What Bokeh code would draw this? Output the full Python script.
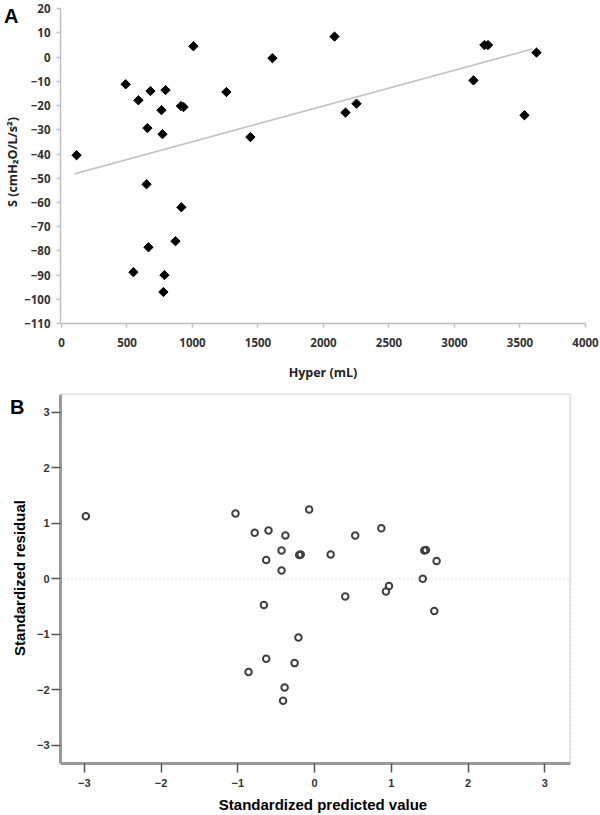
from bokeh.plotting import figure
from bokeh.layouts import column
from bokeh.models import (FixedTicker, Range1d, LinearAxis, CustomJSTickFormatter,
                          BoxAnnotation)
from bokeh.embed import file_html
from bokeh.resources import INLINE

# ---------------- Panel A data ----------------
hyper_ml = [115, 490, 587, 679, 794, 763, 656, 771, 912, 932, 1007, 1259, 1442, 1610,
            649, 915, 870, 664, 549, 786, 778, 2084, 2168, 2252, 3145, 3228, 3256,
            3626, 3534]
s_value = [-40.5, -11.2, -17.8, -14.0, -13.6, -21.9, -29.3, -31.8, -20.2, -20.6, 4.5,
           -14.4, -33.0, -0.4, -52.5, -62.0, -76.0, -78.5, -88.8, -90.0, -97.0, 8.5,
           -22.9, -19.2, -9.6, 5.0, 5.0, 1.9, -24.0]
trend_x = [99, 3598]
trend_y = [-48.2, 3.4]
a_x_ticks = [0, 500, 1000, 1500, 2000, 2500, 3000, 3500, 4000]
a_y_ticks = [-110, -100, -90, -80, -70, -60, -50, -40, -30, -20, -10, 0, 10, 20]

# ---------------- Panel B data ----------------
std_pred = [-2.98, -1.03, -0.78, -0.60, -0.38, -0.43, -0.63, -0.43, -0.20, -0.18,
            -0.66, -0.21, -0.63, -0.86, -0.26, -0.39, -0.41, -0.07, 0.21, 0.53,
            0.87, 1.43, 1.45, 1.59, 1.41, 0.97, 0.93, 0.40, 1.56]
std_resid = [1.13, 1.18, 0.83, 0.87, 0.78, 0.51, 0.34, 0.15, 0.43, 0.44,
             -0.47, -1.06, -1.44, -1.68, -1.52, -1.96, -2.20, 1.25, 0.44, 0.78,
             0.91, 0.51, 0.52, 0.32, 0.00, -0.13, -0.23, -0.32, -0.58]
b_ticks = [-3, -2, -1, 0, 1, 2, 3]
b_box_edge = 3.33   # where the SPSS chart box closes (top and right)
b_reference = 0     # residual reference line

# panel letters (row where each letter sits, in each panel's y units)
panel_letters = ["A", "B"]
letter_rows = [17.2, 3.10]


def letter_axis(letter, row):
    ax = LinearAxis(ticker=FixedTicker(ticks=[row]),
                    formatter=CustomJSTickFormatter(code="return '%s';" % letter))
    ax.axis_line_color = None
    ax.major_tick_line_color = None
    ax.minor_tick_line_color = None
    ax.major_tick_out = 0
    ax.major_tick_in = 0
    ax.minor_tick_out = 0
    ax.minor_tick_in = 0
    ax.major_label_standoff = -17
    ax.major_label_text_font = "Liberation Sans"
    ax.major_label_text_font_style = "bold"
    ax.major_label_text_font_size = "20px"
    ax.major_label_text_color = "black"
    return ax


# ---------------- Panel A ----------------
pA = figure(width=600, height=385,
            x_range=Range1d(-7.6, 4000), y_range=Range1d(-110, 23.4),
            output_backend="svg", toolbar_location=None,
            min_border_left=60, min_border_right=15, min_border_top=0, min_border_bottom=62)
pA.outline_line_color = None
pA.xgrid.grid_line_color = None
pA.ygrid.grid_line_color = None
pA.background_fill_color = "white"
pA.border_fill_color = "white"

pA.line(trend_x, trend_y, line_color="#c4c4c4", line_width=1.6)
pA.scatter(hyper_ml, s_value, marker="square", angle=0.785398, size=6.6,
           fill_color="black", line_color="black")

for ax in (pA.xaxis[0], pA.yaxis[0]):
    ax.axis_line_color = "#bfbfbf"
    ax.axis_line_width = 1.5
    ax.major_tick_line_color = "#bfbfbf"
    ax.major_tick_line_width = 1.5
    ax.major_tick_out = 4
    ax.major_tick_in = 0
    ax.minor_tick_out = 0
    ax.minor_tick_in = 0
    ax.major_label_text_font = "Open Sans"
    ax.major_label_text_font_style = "bold"
    ax.major_label_text_font_size = "11.5px"
    ax.major_label_text_color = "#333333"
    ax.axis_label_text_font = "Open Sans"
    ax.axis_label_text_font_style = "bold"
    ax.axis_label_text_font_size = "12.5px"
    ax.axis_label_text_color = "#222222"

pA.xaxis.ticker = FixedTicker(ticks=a_x_ticks)
pA.yaxis.ticker = FixedTicker(ticks=a_y_ticks)
pA.xaxis.bounds = (0, 4000)
pA.yaxis.bounds = (-110, 20)
pA.xaxis.major_label_standoff = 10
pA.yaxis.major_label_standoff = 6
pA.xaxis.axis_label = "Hyper (mL)"
pA.yaxis.axis_label = "S (cmH\u2082O/L/s\u00b2)"
pA.xaxis.axis_label_standoff = 14
pA.yaxis.axis_label_standoff = 0
pA.add_layout(letter_axis(panel_letters[0], letter_rows[0]), "left")

# ---------------- Panel B ----------------
pB = figure(width=600, height=430,
            x_range=Range1d(-3.31, 3.53), y_range=Range1d(-3.33, 3.36),
            output_backend="svg", toolbar_location=None,
            min_border_left=60, min_border_right=15, min_border_top=7, min_border_bottom=51)
pB.xgrid.grid_line_color = None
pB.ygrid.grid_line_color = None
pB.outline_line_color = None
pB.background_fill_color = "white"
pB.border_fill_color = "white"

# dotted reference line at residual 0, ending at the box's right edge
pB.add_layout(BoxAnnotation(left=-10, right=b_box_edge, bottom=-10, top=b_reference,
                            fill_color=None, fill_alpha=0, line_color="#c8c8c8",
                            line_dash="2 2", line_width=1.5))
# closing box of the chart (top and right edges; left/bottom lie off-frame)
pB.add_layout(BoxAnnotation(left=-10, right=b_box_edge, bottom=-10, top=b_box_edge,
                            fill_color=None, fill_alpha=0, line_color="#ababab",
                            line_width=2))
pB.scatter(std_pred, std_resid, marker="circle", size=6.5, fill_color=None,
           line_color="#404040", line_width=2)

for ax in (pB.xaxis[0], pB.yaxis[0]):
    ax.axis_line_color = "#9a9a9a"
    ax.axis_line_width = 3
    ax.major_tick_line_color = "#555555"
    ax.major_tick_line_width = 1.5
    ax.major_tick_out = 9
    ax.major_tick_in = 0
    ax.minor_tick_out = 0
    ax.minor_tick_in = 0
    ax.major_label_text_font = "Liberation Sans"
    ax.major_label_text_font_style = "bold"
    ax.major_label_text_font_size = "11px"
    ax.major_label_text_color = "#333333"
    ax.axis_label_text_font = "Liberation Sans"
    ax.axis_label_text_font_style = "bold"
    ax.axis_label_text_font_size = "15px"
    ax.axis_label_text_color = "black"

pB.xaxis.ticker = FixedTicker(ticks=b_ticks)
pB.yaxis.ticker = FixedTicker(ticks=b_ticks)
pB.xaxis.bounds = (-3.31, b_box_edge)
pB.yaxis.bounds = (-3.33, b_box_edge)
pB.xaxis.major_label_standoff = 6
pB.yaxis.major_label_standoff = 2
pB.xaxis.axis_label = "Standardized predicted value"
pB.yaxis.axis_label = "Standardized residual"
pB.xaxis.axis_label_standoff = 6
pB.yaxis.axis_label_standoff = 6
pB.add_layout(letter_axis(panel_letters[1], letter_rows[1]), "left")

layout = column(pA, pB, spacing=0)
open("out.html", "w").write(file_html(layout, INLINE))
